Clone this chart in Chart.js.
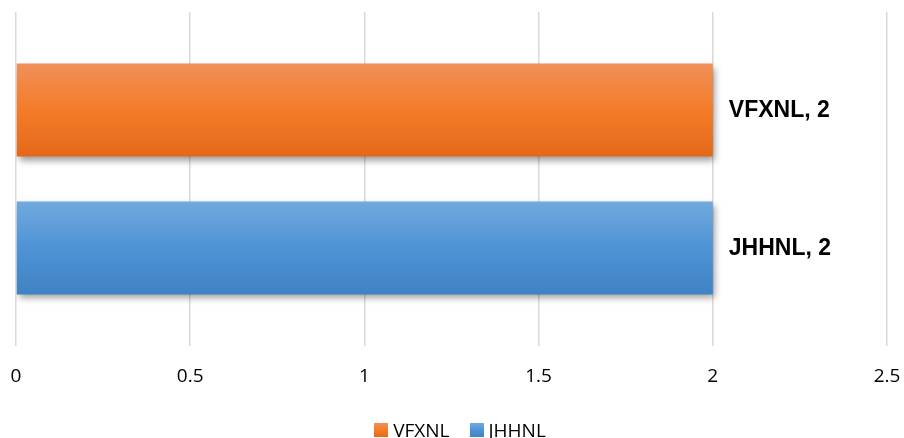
<!DOCTYPE html>
<html>
<head>
<meta charset="utf-8">
<script src="https://cdn.jsdelivr.net/npm/chart.js@4/dist/chart.umd.min.js"></script>
<style>
  html, body { margin: 0; padding: 0; background: #fff; }
  #wrap { position: relative; width: 904px; height: 438px; }
  #legend {
    position: absolute; left: 0; top: 419px; width: 904px; height: 22px;
    display: flex; justify-content: center; align-items: center;
    padding-left: 16px; box-sizing: border-box;
    font-family: "Open Sans", sans-serif; font-size: 19px; line-height: 22px; color: #000;
  }
  .item { display: flex; align-items: center; margin: 0 10px; }
  .box { width: 14px; height: 14px; margin-right: 5px; }
</style>
</head>
<body>
<div id="wrap">
  <canvas id="barChart"></canvas>
  <div id="legend"></div>
</div>
<script>
const categories = [""];
const seriesNames = ["VFXNL", "JHHNL"];
const vfxnlValues = [2];
const jhhnlValues = [2];
const xTicks = [0, 0.5, 1, 1.5, 2, 2.5];

const gradients = {
	VFXNL: ["#F0905A", "#F47C28", "#E5681A"],
	JHHNL: ["#72A9DE", "#4E93D6", "#3F83C4"],
};

// gradient + shadow on each bar
const barStyle = {
	id: "barStyle",
	beforeDatasetDraw(chart, args) {
		const ctx = chart.ctx;
		const ds = chart.data.datasets[args.index];
		const stops = gradients[ds.label];
		args.meta.data.forEach((bar) => {
			const top = bar.y - bar.height / 2;
			const bottom = bar.y + bar.height / 2;
			const g = ctx.createLinearGradient(0, top, 0, bottom);
			g.addColorStop(0, stops[0]);
			g.addColorStop(0.5, stops[1]);
			g.addColorStop(1, stops[2]);
			bar.options.backgroundColor = g;
		});
		ctx.save();
		ctx.shadowColor = "rgba(0, 0, 0, 0.4)";
		ctx.shadowBlur = 7;
		ctx.shadowOffsetX = 2;
		ctx.shadowOffsetY = 4;
	},
	afterDatasetDraw(chart) {
		chart.ctx.restore();
	},
};

// "Name, value" label to the right of each bar
const barLabels = {
	id: "barLabels",
	afterDatasetsDraw(chart) {
		const ctx = chart.ctx;
		ctx.save();
		ctx.font = "bold 23px 'Liberation Sans', Arial, sans-serif";
		ctx.fillStyle = "#000";
		ctx.textBaseline = "middle";
		ctx.textAlign = "left";
		chart.data.datasets.forEach((ds, i) => {
			chart.getDatasetMeta(i).data.forEach((bar, j) => {
				ctx.fillText(ds.label + ", " + ds.data[j], bar.x + 16, bar.y + 1);
			});
		});
		ctx.restore();
	},
};

// html legend under the chart
function buildLegend(chart) {
	const legend = document.getElementById("legend");
	legend.innerHTML = "";
	chart.data.datasets.forEach((ds) => {
		const stops = gradients[ds.label];
		const item = document.createElement("div");
		item.className = "item";
		const box = document.createElement("span");
		box.className = "box";
		box.style.background = `linear-gradient(${stops[0]}, ${stops[1]}, ${stops[2]})`;
		const text = document.createElement("span");
		text.textContent = ds.label;
		item.appendChild(box);
		item.appendChild(text);
		legend.appendChild(item);
	});
}

const ctx = document.getElementById("barChart").getContext("2d");

const myChart = new Chart(ctx, {
	type: "bar",
	data: {
		labels: categories,
		datasets: [
			{ label: seriesNames[0], data: vfxnlValues, backgroundColor: "#F47C28" },
			{ label: seriesNames[1], data: jhhnlValues, backgroundColor: "#4E93D6" },
		],
	},
	options: {
		indexAxis: "y",
		responsive: true,
		maintainAspectRatio: false,
		animation: false,
		categoryPercentage: 0.826,
		barPercentage: 0.674,
		layout: { padding: { top: 12, left: 16, right: 17, bottom: 0 } },
		plugins: {
			legend: { display: false },
			tooltip: { enabled: false },
		},
		scales: {
			x: {
				min: 0,
				max: 2.5,
				afterBuildTicks: (axis) => {
					axis.ticks = xTicks.map((v) => ({ value: v }));
				},
				afterFit: (axis) => {
					axis.paddingLeft = 0;
					axis.paddingRight = 0;
					axis.height = 92;
				},
				grid: { color: "#d9d9d9", lineWidth: 1.5, drawTicks: false },
				border: { display: false },
				ticks: {
					padding: 19,
					color: "#000",
					maxRotation: 0,
					callback: (v) => String(v),
					font: { family: "'Open Sans', sans-serif", size: 19 },
				},
			},
			y: {
				display: false,
			},
		},
	},
	plugins: [barStyle, barLabels],
});

buildLegend(myChart);
</script>
</body>
</html>
